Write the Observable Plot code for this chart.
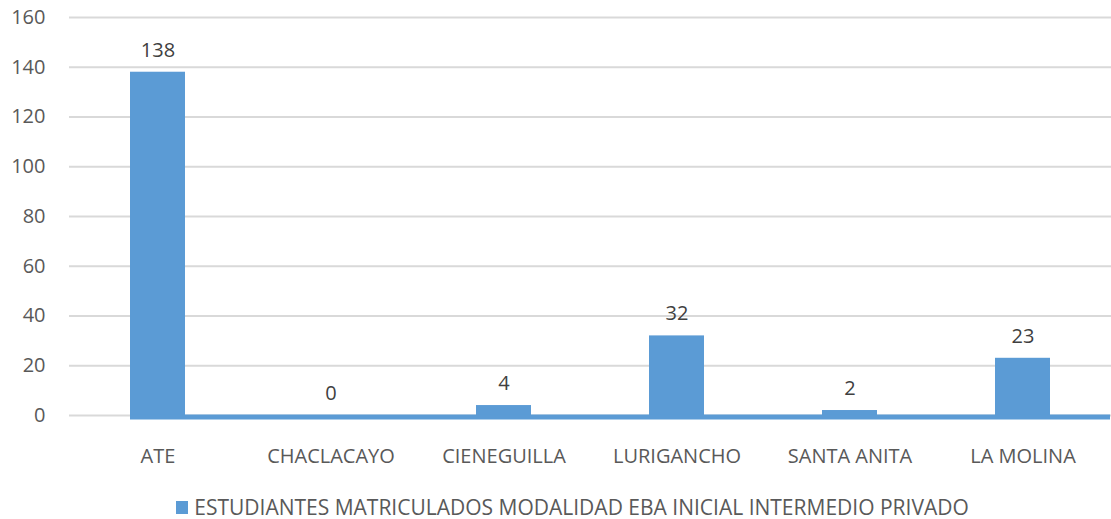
<!DOCTYPE html>
<html>
<head>
<meta charset="utf-8">
<script src="https://cdn.jsdelivr.net/npm/d3@7"></script>
<script src="https://cdn.jsdelivr.net/npm/@observablehq/plot@0.6"></script>
<style>
  body { margin: 0; background: #fff; font-family: "Open Sans", sans-serif; }
  #chart svg { display: block; }
  #legend { display: flex; justify-content: center; align-items: center; height: 30px; margin-top: 12px; padding-left: 34px; font-size: 21px; color: #595959; }
  #legend .sw { width: 12px; height: 13px; background: #5b9bd5; margin-right: 6px; }
</style>
</head>
<body>
<div id="chart"></div>
<div id="legend"><span class="sw"></span><span id="legtext"></span></div>
<script>
const categories = ["ATE", "CHACLACAYO", "CIENEGUILLA", "LURIGANCHO", "SANTA ANITA", "LA MOLINA"];
const values = [138, 0, 4, 32, 2, 23];
const yTicks = [0, 20, 40, 60, 80, 100, 120, 140, 160];
const seriesName = "ESTUDIANTES MATRICULADOS MODALIDAD EBA INICIAL INTERMEDIO PRIVADO";

const data = categories.map((c, i) => ({ category: c, value: values[i] }));
const baseline = [{ y: 0, from: categories[0], to: categories[categories.length - 1] }];

const chart = Plot.plot({
  width: 1111,
  height: 480,
  marginTop: 17,
  marginBottom: 65,
  marginLeft: 69,
  marginRight: 0,
  style: { fontFamily: "Open Sans, sans-serif", fontSize: "20px", color: "#595959", background: "#fff" },
  x: { domain: categories, paddingInner: 0.68, paddingOuter: 0.34, label: null, tickSize: 0, tickPadding: 33 },
  y: { domain: [0, 160], ticks: yTicks, label: null, tickSize: 0, tickPadding: 24 },
  marks: [
    Plot.gridY(yTicks, { stroke: "#d9d9d9", strokeOpacity: 1, strokeWidth: 2 }),
    Plot.barY(data, { x: "category", y: "value", fill: "#5b9bd5" }),
    Plot.ruleY(baseline, { y: "y", x1: "from", x2: "to", stroke: "#5b9bd5", strokeWidth: 5, dy: 1.5, insetRight: -60 }),
    Plot.text(data, { x: "category", y: "value", text: d => String(d.value), dy: -22, fill: "#404040", fontSize: 20 })
  ]
});
document.getElementById("chart").appendChild(chart);
document.getElementById("legtext").textContent = seriesName;
</script>
</body>
</html>
